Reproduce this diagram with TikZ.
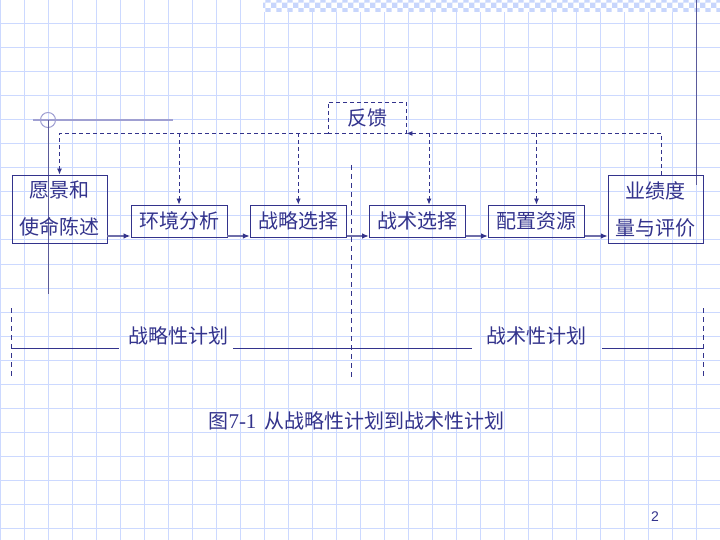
\documentclass[tikz,border=0pt]{standalone}
\usepackage{fontspec}
\setmainfont{Liberation Serif}
\newfontfamily\cjk{Noto Sans CJK SC}
\newfontfamily\arialf{Liberation Sans}
\usetikzlibrary{arrows.meta,patterns}
\definecolor{navy}{RGB}{51,51,140}
\definecolor{gridc}{RGB}{204,217,255}
\definecolor{flowc}{RGB}{110,110,170}
\definecolor{decol}{RGB}{160,160,210}
\definecolor{decod}{RGB}{90,90,155}
\definecolor{bandc}{RGB}{200,214,252}
\tikzset{
  gridline/.style={draw=gridc,line width=1bp},
  boxn/.style={draw=navy,line width=0.9bp,text=navy,inner sep=0pt,
    font=\cjk\fontsize{20bp}{37bp}\selectfont,align=center},
  fbline/.style={draw=navy,line width=0.9bp,dash pattern=on 4bp off 3bp,
    -{Latex[length=6bp,width=5bp]}},
  flow/.style={draw=flowc,line width=1.8bp,
    -{Latex[length=7bp,width=5.5bp,color=navy,fill=navy]}},
  sepline/.style={draw=navy,line width=0.8bp,dash pattern=on 5bp off 4bp},
  planline/.style={draw=navy,line width=0.9bp},
  lbl/.style={text=navy,inner sep=0pt,font=\cjk\fontsize{20bp}{24bp}\selectfont}
}
\begin{document}
\begin{tikzpicture}[x=1bp,y=-1bp]
\useasboundingbox (0,0) rectangle (720,540);
\fill[white] (0,0) rectangle (720,540);
% grid
\foreach \i in {0,...,30} \draw[gridline] (\i*24,0) -- (\i*24,540);
\foreach \j in {1,...,22} \draw[gridline] (0,\j*24) -- (720,\j*24);
% top band
\fill[white] (263,0) rectangle (720,12);
\fill[pattern=checkerboard,pattern color=bandc] (263,0) rectangle (720,12);
\draw[draw=decod,line width=1bp] (696,0) -- (696,185);
% left decoration
\draw[draw=decol,line width=1.2bp] (33,120) -- (173,120);
\draw[draw=decol,line width=1bp] (48,120) circle[radius=7.5];
\draw[draw=decod,line width=1bp] (48,120) -- (48,294);
% boxes
\node[boxn,minimum width=95bp,minimum height=68bp] (vision) at (59.5,209) {愿景和\\使命陈述};
\node[boxn,minimum width=96bp,minimum height=32bp] (env) at (179,221) {环境分析};
\node[boxn,minimum width=96bp,minimum height=32bp] (strat) at (298.3,221) {战略选择};
\node[boxn,minimum width=96bp,minimum height=32bp] (tact) at (417.5,221) {战术选择};
\node[boxn,minimum width=96bp,minimum height=32bp] (alloc) at (536.5,221) {配置资源};
\node[boxn,minimum width=95bp,minimum height=68bp] (perf) at (655.8,209) {业绩度\\量与评价};
\node[boxn,dash pattern=on 4bp off 3bp,minimum width=78bp,minimum height=31bp] (fb) at (367,117.5) {反馈};
% feedback connectors
\draw[fbline] ([xshift=6bp]perf.north) |- (fb.south east);
\draw[fbline] (fb.south west) -| (vision.north);
\draw[fbline] (env.north |- fb.south) -- (env.north);
\draw[fbline] (strat.north |- fb.south) -- (strat.north);
\draw[fbline] ([xshift=11.5bp]tact.north |- fb.south) -- ([xshift=11.5bp]tact.north);
\draw[fbline] (alloc.north |- fb.south) -- (alloc.north);
% flow arrows
\coordinate (ay) at (0,236);
\draw[flow] (vision.east |- ay) -- (env.west |- ay);
\draw[flow] (env.east |- ay) -- (strat.west |- ay);
\draw[flow] (strat.east |- ay) -- (tact.west |- ay);
\draw[flow] (tact.east |- ay) -- (alloc.west |- ay);
\draw[flow] (alloc.east |- ay) -- (perf.west |- ay);
% separators
\draw[sepline] (11,308) -- (11,379);
\draw[sepline] (351.5,165) -- (351.5,379);
\draw[sepline] (703.4,308) -- (703.4,379);
\draw[planline] (11,348.7) -- (119,348.7);
\draw[planline] (233,348.7) -- (471.5,348.7);
\draw[planline] (602,348.7) -- (703.4,348.7);
\node[lbl] (splan) at (178.6,336) {战略性计划};
\node[lbl] (tplan) at (536.7,336) {战术性计划};
% caption
\node[lbl] (cap) at (356.5,421) {图{\rmfamily\fontsize{21bp}{24bp}\selectfont 7-1}\hspace{8bp}从战略性计划到战术性计划};
\node[text=navy,inner sep=0pt,font=\arialf\fontsize{14bp}{16bp}\selectfont] (pg) at (655,517) {2};
\end{tikzpicture}
\end{document}
